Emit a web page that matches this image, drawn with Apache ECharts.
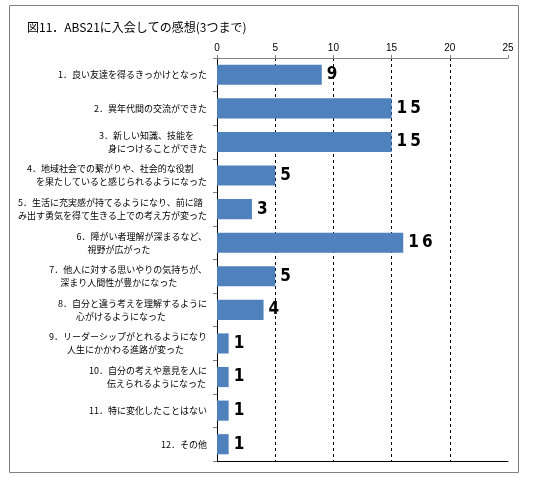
<!DOCTYPE html>
<html lang="ja">
<head>
<meta charset="UTF-8">
<title>図11 ABS21に入会しての感想</title>
<script src="https://cdn.jsdelivr.net/npm/echarts@6/dist/echarts.min.js"></script>
<style>
    html, body { margin: 0; padding: 0; background: #fff; }
    #main { width: 533px; height: 484px; }
</style>
</head>
<body>
<div id="main"></div>
<script>
// 項目（上から順）
var categories = [
    '1．良い友達を得るきっかけとなった',
    '2．異年代間の交流ができた',
    '3．新しい知識、技能を\n　身につけることができた',
    '4．地域社会での繋がりや、社会的な役割\n　を果たしていると感じられるようになった',
    '5．生活に充実感が持てるようになり、前に踏\nみ出す勇気を得て生きる上での考え方が変った',
    '6．障がい者理解が深まるなど、\n　 視野が広がった',
    '7．他人に対する思いやりの気持ちが、\n　 深まり人間性が豊かになった',
    '8．自分と違う考えを理解するように\n　　心がけるようになった',
    '9．リーダーシップがとれるようになり\n　　人生にかかわる進路が変った',
    '10．自分の考えや意見を人に\n　　伝えられるようになった',
    '11．特に変化したことはない',
    '12．その他'
];
// 回答数
var counts = [9, 15, 15, 5, 3, 16, 5, 4, 1, 1, 1, 1];
// 目盛り
var axisMin = 0, axisMax = 25, axisStep = 5;

var jpFont = '"Noto Sans CJK JP", sans-serif';
var myChart = echarts.init(document.getElementById('main'));

var option = {
    backgroundColor: '#fff',
    animation: false,
    title: {
        text: '図11．ABS21に入会しての感想(3つまで)',
        left: 22,
        top: 16,
        textStyle: { fontSize: 12, fontWeight: 'normal', color: '#000', fontFamily: jpFont }
    },
    graphic: [{
        type: 'rect',
        shape: { x: 9.5, y: 5.5, width: 509, height: 467 },
        style: { fill: 'none', stroke: '#808080', lineWidth: 1 },
        silent: true
    }],
    grid: { left: 217, right: 25, top: 58, bottom: 23 },
    xAxis: [{
        type: 'value',
        position: 'top',
        min: axisMin,
        max: axisMax,
        interval: axisStep,
        axisLine: { show: true, lineStyle: { color: '#808080' } },
        axisTick: { show: true, length: 3, lineStyle: { color: '#808080' } },
        axisLabel: { fontSize: 10, color: '#000', margin: 5, fontFamily: 'Liberation Sans' },
        splitLine: {
            show: true,
            showMinLine: false,
            showMaxLine: false,
            lineStyle: { color: '#000', type: [3, 3], width: 1 }
        }
    }, {
        type: 'value',
        position: 'bottom',
        min: axisMin,
        max: axisMax,
        axisLine: { show: true, onZero: false, lineStyle: { color: '#000' } },
        axisTick: { show: false },
        axisLabel: { show: false },
        splitLine: { show: false }
    }],
    yAxis: [{
        type: 'category',
        inverse: true,
        data: categories,
        axisLine: { show: true, lineStyle: { color: '#808080' } },
        axisTick: { show: true, length: 4, lineStyle: { color: '#808080' } },
        axisLabel: {
            margin: 10,
            color: '#000',
            formatter: function (v) {
                // 行ごとに左揃え（ブロックは右端を揃える）
                return v.split('\n').map(function (s) { return '{t|' + s + '}'; }).join('\n');
            },
            rich: {
                t: { fontSize: 9, lineHeight: 13, color: '#000', align: 'left', fontFamily: jpFont }
            }
        }
    }, {
        type: 'category',
        inverse: true,
        position: 'right',
        data: categories,
        axisLine: { show: true, lineStyle: { color: '#000' } },
        axisTick: { show: false },
        axisLabel: { show: false }
    }],
    series: [{
        name: '回答数',
        type: 'bar',
        xAxisIndex: 0,
        yAxisIndex: 0,
        barWidth: '60%',
        data: counts,
        itemStyle: { color: '#4F81BD' },
        label: {
            show: true,
            position: 'right',
            distance: 5,
            formatter: function (p) { return String(p.value).split('').join('\u2009'); },
            fontSize: 17,
            fontWeight: 'bold',
            color: '#000',
            fontFamily: '"Liberation Sans Narrow", "DejaVu Sans Condensed", sans-serif'
        }
    }]
};

myChart.setOption(option);
</script>
</body>
</html>
